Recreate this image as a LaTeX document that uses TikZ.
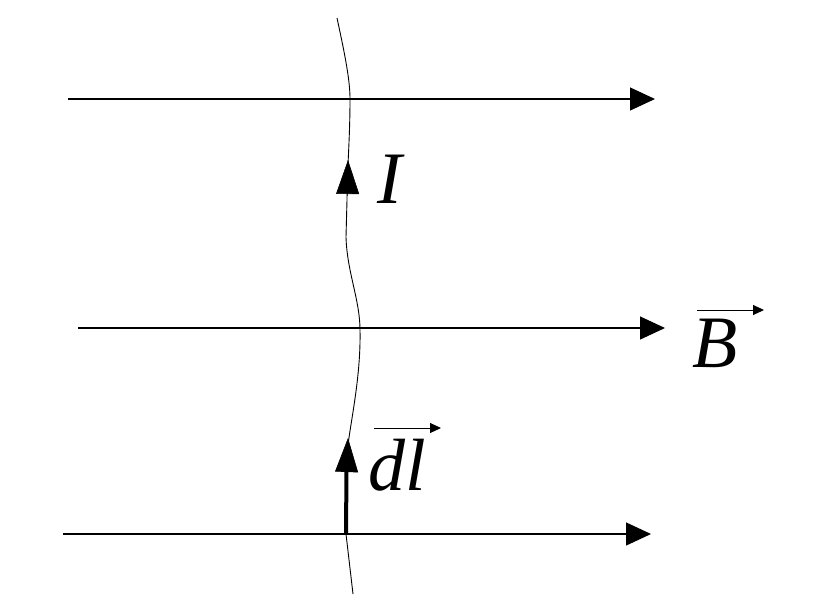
\documentclass[tikz,border=0pt]{standalone}
\usepackage{fontspec}
\setmainfont{Liberation Serif}
\usetikzlibrary{arrows.meta}
\begin{document}
\begin{tikzpicture}[x=1pt,y=-1pt,
  field/.style={line width=1.3pt,-{Triangle[length=25pt,width=23pt]}},
  wire/.style={line width=0.9pt},
  currenthead/.style={line width=0.6pt,-{Triangle[length=34pt,width=23pt]}},
  vecarrow/.style={line width=1pt,-{Triangle[length=11pt,width=10pt]}},
  lbl/.style={font=\fontsize{74}{80}\selectfont\itshape,inner sep=0pt,anchor=base}]
\useasboundingbox (0,0) rectangle (825,606);
% field lines
\coordinate (t1) at (68,99);   \coordinate (t2) at (655,99);
\coordinate (m1) at (78,328);  \coordinate (m2) at (665,328);
\coordinate (b1) at (63,534);  \coordinate (b2) at (651,534);
\draw[field] (t1) -- (t2);
\draw[field] (m1) -- (m2);
\draw[field] (b1) -- (b2);
% wire
\coordinate (w0) at (337,18);
\coordinate (w1) at (350,99);
\coordinate (w2) at (347,200);
\coordinate (w3) at (346,237);
\coordinate (w4) at (360,330);
\coordinate (w5) at (348,445);
\coordinate (w6) at (346,534);
\coordinate (w7) at (353,594);
\draw[wire] (w0) .. controls (345,55) and (350,80) .. (w1)
  .. controls (350,140) and (347,170) .. (w2) -- (w3)
  .. controls (347,272) and (360,300) .. (w4)
  .. controls (361,375) and (351,420) .. (w5) -- (w6) -- (w7);
% current arrow
\coordinate (ia) at (347.6,196);
\coordinate (ib) at (348,160);
\draw[currenthead] (ia) -- (ib);
% dl arrow
\coordinate (da) at (346,534);
\coordinate (db) at (346.5,470);
\coordinate (dc) at (348,438);
\draw[line width=4pt] (da) -- (db);
\draw[currenthead] (346.5,474) -- (dc);
% labels
\node[lbl] (I) at (390,203) {I};
\node[lbl] (B) at (715,367) {B};
\node[lbl] (dl) at (397,490) {dl};
\coordinate (Ba) at (697,310); \coordinate (Bb) at (764,310);
\draw[vecarrow] (Ba) -- (Bb);
\coordinate (Da) at (374,428); \coordinate (Db) at (441,428);
\draw[vecarrow] (Da) -- (Db);
\end{tikzpicture}
\end{document}
